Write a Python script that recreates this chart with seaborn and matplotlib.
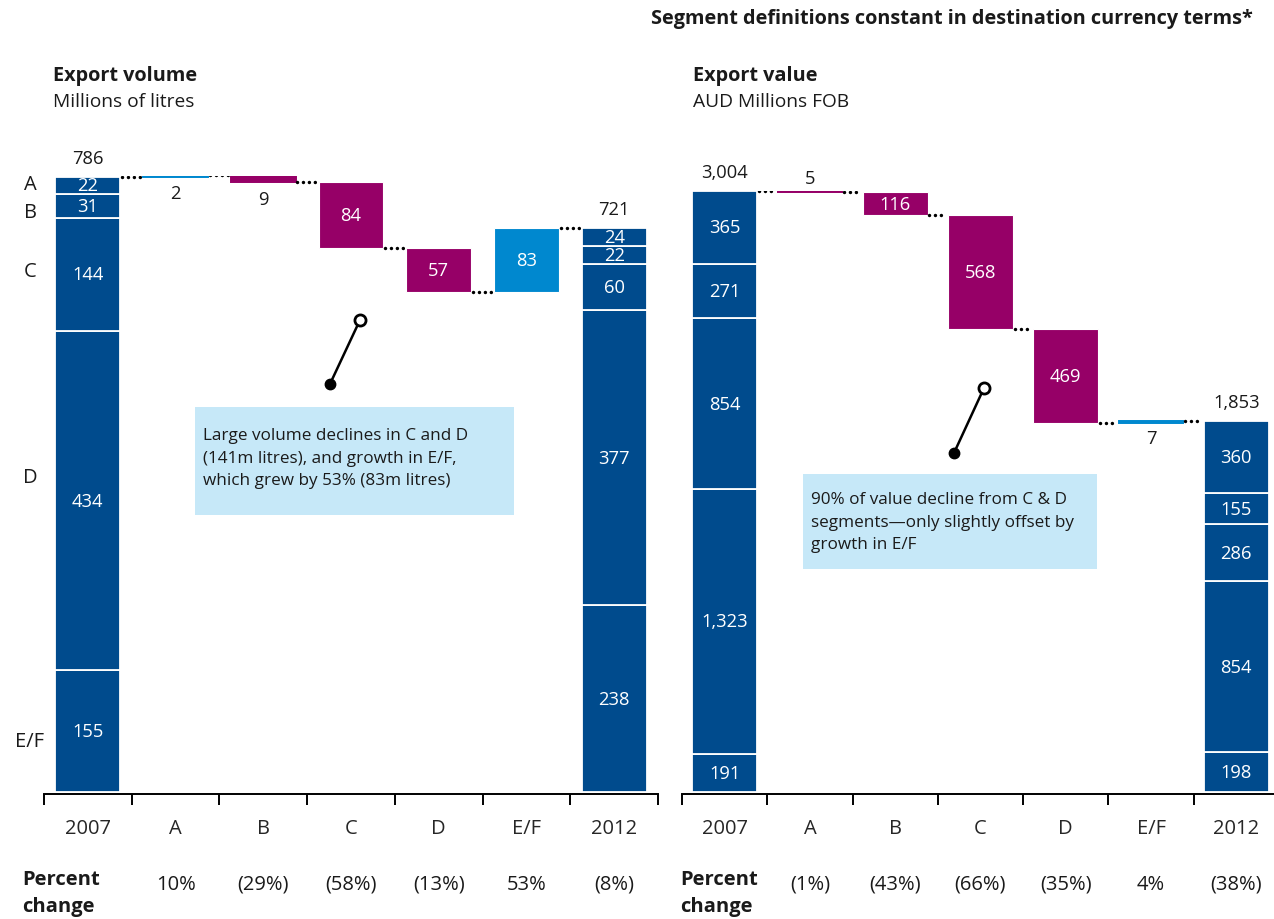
import numpy as np
import pandas as pd
import matplotlib
matplotlib.use("Agg")
import matplotlib.pyplot as plt
import matplotlib.transforms as mtrans
from matplotlib.patches import Rectangle
from matplotlib.lines import Line2D
import seaborn as sns

# ---------------- data ----------------
categories = ["2007", "A", "B", "C", "D", "E/F", "2012"]
segments = ["A", "B", "C", "D", "E/F"]          # top -> bottom in the stacks

vol_2007 = [22, 31, 144, 434, 155]
vol_change = [2, -9, -84, -57, 83]
vol_2012 = [24, 22, 60, 377, 238]
vol_pct = ["10%", "(29%)", "(58%)", "(13%)", "53%", "(8%)"]

val_2007 = [365, 271, 854, 1323, 191]
val_change = [-5, -116, -568, -469, 7]
val_2012 = [360, 155, 286, 854, 198]
val_pct = ["(1%)", "(43%)", "(66%)", "(35%)", "4%", "(38%)"]

# ---------------- style ----------------
DARK = "#004B8D"
MAG = "#960067"
LIGHT = "#0088CF"
BOX = "#C6E8F8"
TXT = "#1a1a1a"

NUM_FS = 13.2     # numbers on / near bars
AX_FS = 14.5      # tick labels, percent row, segment letters
TITLE_FS = 14.3
SUB_FS = 13.8
NOTE_FS = 12.3

sns.set_theme(style="ticks")
plt.rcParams["font.family"] = ["Open Sans", "DejaVu Sans"]
plt.rcParams["text.color"] = TXT

W, H = 1274, 920
fig = plt.figure(figsize=(W / 100, H / 100), dpi=100)


def fx(px):
    return px / W


def fy(py):
    return 1 - py / H


def bar(ax, x, h, b, color, width, ec, lw):
    sns.barplot(x=[x], y=[h], bottom=b, native_scale=True, orient="x",
                color=color, saturation=1, width=width, edgecolor=ec,
                linewidth=lw, errorbar=None, ax=ax)


def fmt(v):
    return f"{v:,}"


def panel(ax, start, changes, end, pct, ymax, ypad, width, small_pos, small_off):
    n = len(categories)
    # stacked start / end bars
    for xi, stack in ((0, start), (n - 1, end)):
        bottom = 0
        for v in reversed(stack):
            bar(ax, xi, v, bottom, DARK, width, "white", 1.3)
            ax.text(xi, bottom + v / 2, fmt(v), color="white", ha="center",
                    va="center", fontsize=NUM_FS)
            bottom += v
        ax.annotate(fmt(sum(stack)), (xi, sum(stack)), xytext=(0, 13.5),
                    textcoords="offset points", ha="center", va="center",
                    fontsize=NUM_FS)
    # waterfall steps
    level = sum(start)
    levels = [level]
    for i, d in enumerate(changes):
        xi = i + 1
        new = level + d
        b = min(level, new)
        h = abs(d)
        col = LIGHT if d > 0 else MAG
        if small_pos[i] is None:
            bar(ax, xi, h, b, col, width, "white", 0.8)
            ax.text(xi, b + h / 2, fmt(h), color="white", ha="center",
                    va="center", fontsize=NUM_FS)
        else:
            bar(ax, xi, h, b, col, width, col, 1.4)
            if small_pos[i] == "below":
                ax.annotate(fmt(h), (xi, b), xytext=(0, -small_off[i]),
                            textcoords="offset points", ha="center",
                            va="center", fontsize=NUM_FS)
            else:
                ax.annotate(fmt(h), (xi, b + h), xytext=(0, small_off[i]),
                            textcoords="offset points", ha="center",
                            va="center", fontsize=NUM_FS)
        level = new
        levels.append(level)
    # dotted connectors
    for i, lv in enumerate(levels):
        ax.plot([i + width / 2 + 0.02, i + 1 - width / 2 - 0.02], [lv, lv],
                color="black", lw=2.5, ls=(0, (0.01, 1.7)),
                dash_capstyle="round", solid_capstyle="round")
    ax.set_xlim(-0.5, n - 0.5)
    ax.set_ylim(ypad, ymax)
    ax.set_xticks(range(n))
    ax.set_xticklabels(categories, fontsize=AX_FS)
    ax.set_xticks(np.arange(-0.5, n, 1), minor=True)
    ax.tick_params(axis="x", which="major", length=0, pad=17)
    ax.tick_params(axis="x", which="minor", length=8, width=1.4,
                   color="black", bottom=True, direction="out")
    ax.set_yticks([])
    ax.set_xlabel("")
    ax.set_ylabel("")
    for s in ("left", "right", "top"):
        ax.spines[s].set_visible(False)
    ax.spines["bottom"].set_color("black")
    ax.spines["bottom"].set_linewidth(1.4)
    ax.patch.set_alpha(0)
    trans = mtrans.blended_transform_factory(ax.transData, fig.transFigure)
    for i, s in enumerate(pct):
        ax.text(i + 1, fy(885), s, transform=trans, ha="center", va="center",
                fontsize=AX_FS)


ax1 = fig.add_axes([fx(44), fy(795), fx(614), (787 + 3) * 0.7824 / H])
panel(ax1, vol_2007, vol_change, vol_2012, vol_pct, 787, -3, 0.74,
      ["below", "below", None, None, None], [12, 12, 0, 0, 0])

ax2 = fig.add_axes([fx(682), fy(795), fx(597), (3005 + 10) * 0.2001 / H])
panel(ax2, val_2007, val_change, val_2012, val_pct, 3005, -10, 0.76,
      ["above", None, None, None, "below"], [9, 0, 0, 0, 11])

# left-side segment letters
for lab, py in zip(segments, [185, 213, 272, 478, 742]):
    fig.text(fx(30), fy(py), lab, ha="center", va="center", fontsize=AX_FS)

# titles
fig.text(fx(1253), fy(19), "Segment definitions constant in destination currency terms*",
         ha="right", va="center", fontsize=TITLE_FS, fontweight="bold")
fig.text(fx(53), fy(76), "Export volume", ha="left", va="center", fontsize=TITLE_FS,
         fontweight="bold")
fig.text(fx(53), fy(102), "Millions of litres", ha="left", va="center", fontsize=SUB_FS)
fig.text(fx(693), fy(76), "Export value", ha="left", va="center", fontsize=TITLE_FS,
         fontweight="bold")
fig.text(fx(693), fy(102), "AUD Millions FOB", ha="left", va="center", fontsize=SUB_FS)

for px in (22, 680):
    fig.text(fx(px), fy(880), "Percent", ha="left", va="center", fontsize=AX_FS,
             fontweight="bold")
    fig.text(fx(px), fy(907), "change", ha="left", va="center", fontsize=AX_FS,
             fontweight="bold")


# callout boxes
def callout(x0, y0, x1, y1, tx, ty, lines, dot, ring):
    fig.add_artist(Rectangle((fx(x0), fy(y1)), fx(x1 - x0), (y1 - y0) / H,
                             transform=fig.transFigure, facecolor=BOX,
                             edgecolor="none", zorder=1))
    for k, ln in enumerate(lines):
        fig.text(fx(tx), fy(ty + k * 22.7), ln, ha="left", va="center",
                 fontsize=NOTE_FS, zorder=2)
    fig.add_artist(Line2D([fx(dot[0]), fx(ring[0])], [fy(dot[1]), fy(ring[1])],
                          transform=fig.transFigure, color="black", lw=1.8))
    fig.add_artist(Line2D([fx(dot[0])], [fy(dot[1])], transform=fig.transFigure,
                          marker="o", ms=7.5, color="black"))
    fig.add_artist(Line2D([fx(ring[0])], [fy(ring[1])], transform=fig.transFigure,
                          marker="o", ms=8, mfc="white", mec="black", mew=2))


callout(195, 408, 514, 516, 203, 436,
        ["Large volume declines in C and D",
         "(141m litres), and growth in E/F,",
         "which grew by 53% (83m litres)"],
        (330, 385), (360, 321))
callout(803, 475, 1097, 570, 811, 500,
        ["90% of value decline from C & D",
         "segments\u2014only slightly offset by",
         "growth in E/F"],
        (954, 454), (984, 389))

fig.savefig("out.png", dpi=100)
